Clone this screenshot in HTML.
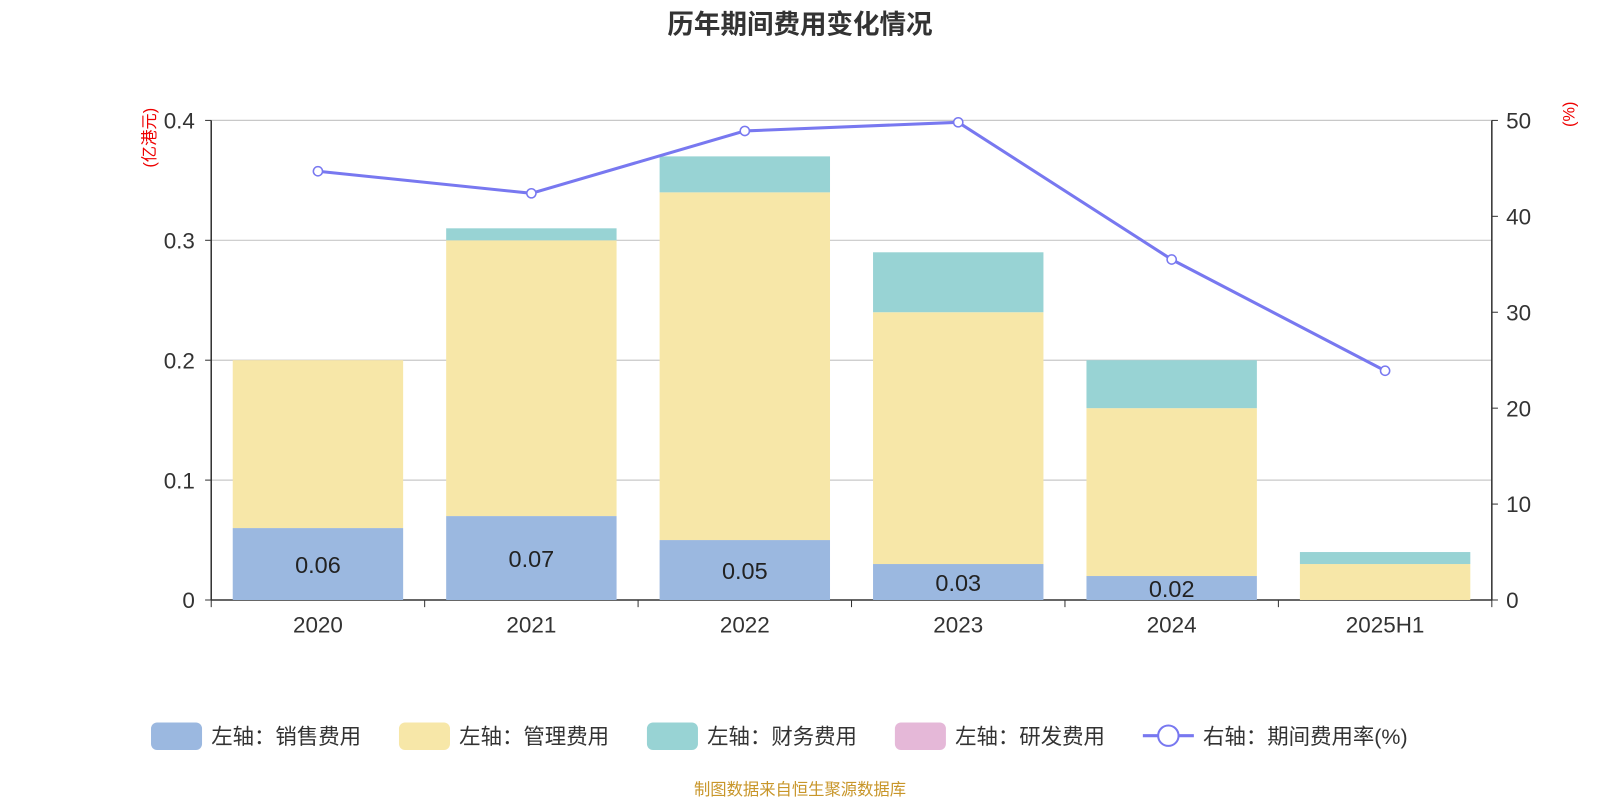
<!DOCTYPE html>
<html><head><meta charset="utf-8"><style>
html,body{margin:0;padding:0;background:#fff;width:1600px;height:800px;overflow:hidden}
svg{display:block;font-family:"Liberation Sans","Noto Sans CJK SC",sans-serif}
</style></head><body>
<svg id="chart" width="1600" height="800">
<g transform="scale(1.0204)">
<text x="784" y="33" text-anchor="middle" font-size="26" font-weight="bold" fill="#333">历年期间费用变化情况</text>
<text transform="translate(152,135) rotate(-90)" text-anchor="middle" font-size="16" fill="#e00">(亿港元)</text>
<text transform="translate(1543,112) rotate(-90)" text-anchor="middle" font-size="16" fill="#e00">(%)</text>
<g id="grid"></g><g id="bars"></g><g id="axes"></g><g id="line"></g>
<g id="legend" font-size="21" fill="#333">
<rect x="148" y="708" width="50" height="27" rx="6" fill="#9bb8e0"/>
<text x="207" y="729">左轴：销售费用</text>
<rect x="391" y="708" width="50" height="27" rx="6" fill="#f7e7a8"/>
<text x="450" y="729">左轴：管理费用</text>
<rect x="634" y="708" width="50" height="27" rx="6" fill="#98d3d4"/>
<text x="693" y="729">左轴：财务费用</text>
<rect x="877" y="708" width="50" height="27" rx="6" fill="#e5b8d8"/>
<text x="936" y="729">左轴：研发费用</text>
<line x1="1120" y1="721" x2="1170" y2="721" stroke="#7878f0" stroke-width="3"/>
<circle cx="1145" cy="721" r="10" fill="#fff" stroke="#7878f0" stroke-width="2"/>
<text x="1179" y="729">右轴：期间费用率(%)</text>
</g>
<text x="784" y="779" text-anchor="middle" font-size="16" fill="#c8962a">制图数据来自恒生聚源数据库</text>
</g>
</svg>
<script>
const categories=["2020","2021","2022","2023","2024","2025H1"];
const sales=[0.06,0.07,0.05,0.03,0.02,0];
const admin=[0.14,0.23,0.29,0.21,0.14,0.03];
const finance=[0,0.01,0.03,0.05,0.04,0.01];
const rate=[44.7,42.4,48.9,49.8,35.5,23.9];
const leftTicks=[0,0.1,0.2,0.3,0.4];
const rightTicks=[0,10,20,30,40,50];
const NS="http://www.w3.org/2000/svg";
const X0=207,X1=1462,Y0=588,Y1=118;
const bw=(X1-X0)/categories.length;
const yL=v=>Y0-(v/0.4)*(Y0-Y1);
const yR=v=>Y0-(v/50)*(Y0-Y1);
const xC=i=>X0+bw*(i+0.5);
function mk(tag,attrs,parent,text){const e=document.createElementNS(NS,tag);for(const k in attrs)e.setAttribute(k,attrs[k]);if(text!==undefined)e.textContent=text;document.getElementById(parent).appendChild(e);return e;}
leftTicks.forEach(t=>{
  const g=mk('line',{x1:X0,x2:X1,y1:yL(t),y2:yL(t),stroke:t===0?'#333':'#c8c8c8','stroke-width':t===0?1.5:1.2},'grid');
  
  
  const l=mk('text',{x:X0-16,y:yL(t)+8,'text-anchor':'end','font-size':22,fill:'#333'},'axes',String(t));
  
  
  const tk=mk('line',{x1:X0-6,x2:X0,y1:yL(t),y2:yL(t),stroke:'#333'},'axes');
  
  
});
rightTicks.forEach(t=>{
  const l=mk('text',{x:X1+14,y:yR(t)+8,'font-size':22,fill:'#333'},'axes',String(t));
  
  
  const tk=mk('line',{x1:X1,x2:X1+6,y1:yR(t),y2:yR(t),stroke:'#333'},'axes');
  
  
});
[X0,X1].forEach(a=>{const ax=mk('line',{x1:a,x2:a,y1:Y1,y2:Y0,stroke:'#333','stroke-width':1.5},'axes');});
for(let i=0;i<=categories.length;i++){const tk=mk('line',{x1:X0+bw*i,x2:X0+bw*i,y1:Y0,y2:Y0+7,stroke:'#333'},'axes');}
categories.forEach((c,i)=>{
  const l=mk('text',{x:xC(i),y:Y0+32,'text-anchor':'middle','font-size':22,fill:'#333'},'axes',c);
  
  
  const w=167,x=xC(i)-w/2;
  let base=0;
  [[sales,'#9bb8e0','bar-sales'],[admin,'#f7e7a8','bar-admin'],[finance,'#98d3d4','bar-finance']].forEach(([arr,col,nm])=>{
    const v=arr[i];if(v>0){
      const r=mk('rect',{x:x,y:yL(base+v),width:w,height:yL(base)-yL(base+v),fill:col},'bars');
      
      
    }
    if(nm==='bar-sales'&&v>0){
      const t=mk('text',{x:xC(i),y:(yL(0)+yL(v))/2+9,'text-anchor':'middle','font-size':23,fill:'#222'},'bars',v.toFixed(2));
      
      
    }
    base+=v;
  });
});
const pts=rate.map((v,i)=>xC(i)+','+yR(v)).join(' ');
const pl=mk('polyline',{points:pts,fill:'none',stroke:'#7878f0','stroke-width':3},'line');


rate.forEach((v,i)=>{const c=mk('circle',{cx:xC(i),cy:yR(v),r:4.5,fill:'#fff',stroke:'#7878f0','stroke-width':1.5},'line');});
</script>
</body></html>
